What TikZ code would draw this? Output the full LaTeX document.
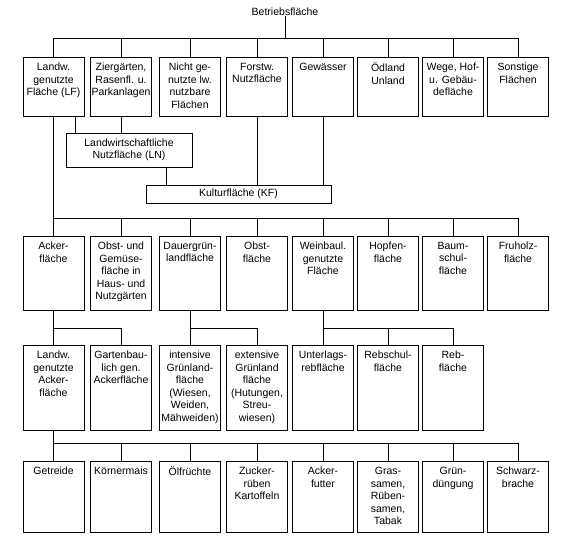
\documentclass[tikz,border=0pt]{standalone}
\usepackage{fontspec}
\setmainfont{Liberation Sans}
\tikzset{
  box/.style={draw, line width=0.8pt, minimum width=61pt, inner sep=0pt, anchor=north},
  rowa/.style={box, minimum height=59pt},
  rowb/.style={box, minimum height=74pt},
  rowc/.style={box, minimum height=85pt},
  rowd/.style={box, minimum height=71pt},
  txt/.style={align=center, font=\fontsize{10.5}{12.5}\selectfont, inner sep=0pt},
  conn/.style={line width=0.8pt},
}
\newcommand\mybox[5]{\node[#1, label={[txt,anchor=north,yshift=-6pt]north:{#5}}] (#2) at (#3,#4) {};}
\begin{document}
\begin{tikzpicture}[x=1pt,y=-1pt]
\useasboundingbox (0,0) rectangle (561,548);
\node[txt] (top) at (285,12) {Betriebsfläche};
\coordinate (bus0) at (0,38);
\coordinate (bus1) at (0,218);
\coordinate (bus2) at (0,328);
\coordinate (bus3) at (0,443);
% row 1
\mybox{rowa}{a1}{53.5}{57}{Landw.\\genutzte\\Fläche (LF)}
\mybox{rowa}{a2}{121}{57}{Ziergärten,\\Rasenfl. u.\\Parkanlagen}
\mybox{rowa}{a3}{190}{57}{Nicht ge-\\nutzte lw.\\nutzbare\\Flächen}
\mybox{rowa}{a4}{257}{57}{Forstw.\\Nutzfläche}
\mybox{rowa}{a5}{323}{57}{Gewässer}
\mybox{rowa}{a6}{388}{57}{Ödland\\Unland}
\mybox{rowa}{a7}{453}{57}{Wege, Hof-\\u. Gebäu-\\defläche}
\mybox{rowa}{a8}{518}{57}{Sonstige\\Flächen}
% LN and KF
\node[draw, line width=0.8pt, minimum width=126pt, minimum height=34pt, inner sep=0pt, txt] (ln) at (129,150) {Landwirtschaftliche\\Nutzfläche (LN)};
\node[draw, line width=0.8pt, minimum width=185pt, minimum height=18pt, inner sep=0pt, txt] (kf) at (238.5,194) {Kulturfläche (KF)};
% row 2
\mybox{rowb}{b1}{53.5}{236}{Acker-\\fläche}
\mybox{rowb}{b2}{121}{236}{Obst- und\\Gemüse-\\fläche in\\Haus- und\\Nutzgärten}
\mybox{rowb}{b3}{190}{236}{Dauergrün-\\landfläche}
\mybox{rowb}{b4}{257}{236}{Obst-\\fläche}
\mybox{rowb}{b5}{323}{236}{Weinbaul.\\genutzte\\Fläche}
\mybox{rowb}{b6}{388}{236}{Hopfen-\\fläche}
\mybox{rowb}{b7}{453}{236}{Baum-\\schul-\\fläche}
\mybox{rowb}{b8}{518}{236}{Fruholz-\\fläche}
% row 3
\mybox{rowc}{c1}{53.5}{345}{Landw.\\genutzte\\Acker-\\fläche}
\mybox{rowc}{c2}{121}{345}{Gartenbau-\\lich gen.\\Ackerfläche}
\mybox{rowc}{c3}{190}{345}{intensive\\Grünland-\\fläche\\(Wiesen,\\Weiden,\\Mähweiden)}
\mybox{rowc}{c4}{257}{345}{extensive\\Grünland\\fläche\\(Hutungen,\\Streu-\\wiesen)}
\mybox{rowc}{c5}{323}{345}{Unterlags-\\rebfläche}
\mybox{rowc}{c6}{388}{345}{Rebschul-\\fläche}
\mybox{rowc}{c7}{453}{345}{Reb-\\fläche}
% row 4
\mybox{rowd}{d1}{53.5}{461}{Getreide}
\mybox{rowd}{d2}{121}{461}{Körnermais}
\mybox{rowd}{d3}{190}{461}{Ölfrüchte}
\mybox{rowd}{d4}{257}{461}{Zucker-\\rüben\\Kartoffeln}
\mybox{rowd}{d5}{323}{461}{Acker-\\futter}
\mybox{rowd}{d6}{388}{461}{Gras-\\samen,\\Rüben-\\samen,\\Tabak}
\mybox{rowd}{d7}{453}{461}{Grün-\\düngung}
\mybox{rowd}{d8}{518}{461}{Schwarz-\\brache}
% connectors: top
\draw[conn] (top.south) -- (top.south |- bus0);
\draw[conn] (a1.north) -- (a1.north |- bus0) -- (a8.north |- bus0) -- (a8.north);
\foreach \n in {a2,a3,a4,a5,a6,a7} \draw[conn] (\n.north) -- (\n.north |- bus0);
% LN, KF
\draw[conn] ([xshift=21.5pt]a1.south) -- ([xshift=21.5pt]a1.south |- ln.north);
\draw[conn] (a2.south) -- (a2.south |- ln.north);
\draw[conn] ([xshift=37pt]ln.south) -- ([xshift=37pt]ln.south |- kf.north);
\draw[conn] (a4.south) -- (a4.south |- kf.north);
\draw[conn] (a5.south) -- (a5.south |- kf.north);
% row 2 bus
\draw[conn] (a1.south) -- (a1.south |- bus1) -- (b8.north |- bus1) -- (b8.north);
\foreach \n in {b1,b2,b3,b4,b5,b6,b7} \draw[conn] (\n.north) -- (\n.north |- bus1);
% row 3
\draw[conn] (b1.south) -- (c1.north);
\draw[conn] (b1.south |- bus2) -| (c2.north);
\draw[conn] (b3.south) -- (c3.north);
\draw[conn] (b3.south |- bus2) -| (c4.north);
\draw[conn] (b5.south) -- (c5.north);
\draw[conn] (b5.south |- bus2) -| (c7.north);
\draw[conn] (c6.north) -- (c6.north |- bus2);
% row 4
\draw[conn] (c1.south) -- (d1.north);
\draw[conn] (c1.south |- bus3) -- (d8.north |- bus3) -- (d8.north);
\foreach \n in {d2,d3,d4,d5,d6,d7} \draw[conn] (\n.north) -- (\n.north |- bus3);
\end{tikzpicture}
\end{document}
